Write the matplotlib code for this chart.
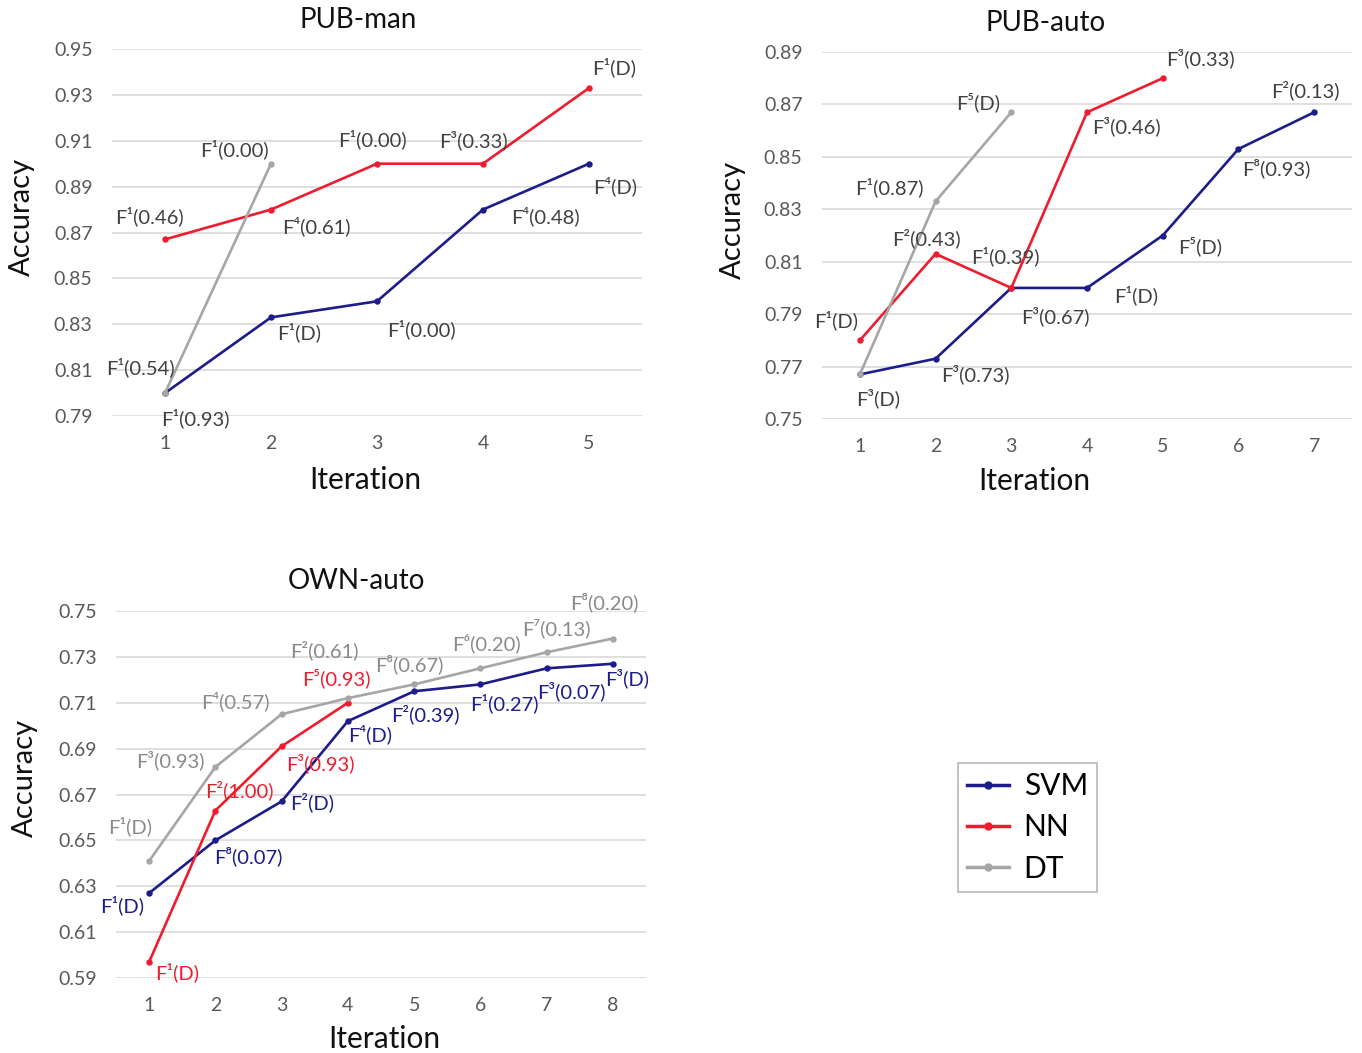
import matplotlib
matplotlib.use("Agg")
import matplotlib.pyplot as plt
from matplotlib.lines import Line2D

plt.rcParams['font.family'] = ['Lato', 'DejaVu Sans']

# ---------------- data ----------------
series_names = ["SVM", "NN", "DT"]

# PUB-man
pm_iter_svm = [1, 2, 3, 4, 5]
pm_svm = [0.800, 0.833, 0.840, 0.880, 0.900]
pm_svm_lbl = ["F¹(0.93)", "F¹(D)", "F¹(0.00)", "F⁴(0.48)", "F⁴(D)"]
pm_iter_nn = [1, 2, 3, 4, 5]
pm_nn = [0.867, 0.880, 0.900, 0.900, 0.933]
pm_nn_lbl = ["F¹(0.46)", "F⁴(0.61)", "F¹(0.00)", "F³(0.33)", "F¹(D)"]
pm_iter_dt = [1, 2]
pm_dt = [0.800, 0.900]
pm_dt_lbl = ["F¹(0.54)", "F¹(0.00)"]
pm_yticks = [0.79, 0.81, 0.83, 0.85, 0.87, 0.89, 0.91, 0.93, 0.95]

# PUB-auto
pa_iter_svm = [1, 2, 3, 4, 5, 6, 7]
pa_svm = [0.767, 0.773, 0.800, 0.800, 0.820, 0.853, 0.867]
pa_svm_lbl = ["F³(D)", "F³(0.73)", "F³(0.67)", "F¹(D)", "F⁵(D)", "F⁸(0.93)", "F²(0.13)"]
pa_iter_nn = [1, 2, 3, 4, 5]
pa_nn = [0.780, 0.813, 0.800, 0.867, 0.880]
pa_nn_lbl = ["F¹(D)", "F²(0.43)", "F¹(0.39)", "F³(0.46)", "F³(0.33)"]
pa_iter_dt = [1, 2, 3]
pa_dt = [0.767, 0.833, 0.867]
pa_dt_lbl = ["", "F¹(0.87)", "F⁵(D)"]
pa_yticks = [0.75, 0.77, 0.79, 0.81, 0.83, 0.85, 0.87, 0.89]

# OWN-auto
oa_iter_svm = [1, 2, 3, 4, 5, 6, 7, 8]
oa_svm = [0.627, 0.650, 0.667, 0.702, 0.715, 0.718, 0.725, 0.727]
oa_svm_lbl = ["F¹(D)", "F⁸(0.07)", "F²(D)", "F⁴(D)", "F²(0.39)", "F¹(0.27)", "F³(0.07)", "F³(D)"]
oa_iter_nn = [1, 2, 3, 4]
oa_nn = [0.597, 0.663, 0.691, 0.710]
oa_nn_lbl = ["F¹(D)", "F²(1.00)", "F³(0.93)", "F⁵(0.93)"]
oa_iter_dt = [1, 2, 3, 4, 5, 6, 7, 8]
oa_dt = [0.641, 0.682, 0.705, 0.712, 0.718, 0.725, 0.732, 0.738]
oa_dt_lbl = ["F¹(D)", "F³(0.93)", "F⁴(0.57)", "F²(0.61)", "F⁸(0.67)", "F⁶(0.20)", "F⁷(0.13)", "F⁸(0.20)"]
oa_yticks = [0.59, 0.61, 0.63, 0.65, 0.67, 0.69, 0.71, 0.73, 0.75]

# ---------------- style ----------------
C_SVM = "#1c1c8a"
C_NN = "#ee1c2e"
C_DT = "#a6a6a6"
GRID = "#d9d9d9"
TICK = "#595959"
LBL = "#404040"

# label offsets in pixels (dx right, dy down)
pm_svm_off = [(30, 25), (28, 15), (44, 28), (62, 7), (26, 23)]
pm_nn_off = [(-16, -23), (45, 17), (-5, -24), (-10, -23), (25, -21)]
pm_dt_off = [(-25, -26), (-37, -14)]

pa_svm_off = [(18, 24), (40, 16), (44, 28), (49, 7), (37, 11), (38, 19), (-9, -22)]
pa_nn_off = [(-24, -20), (-9, -16), (-6, -32), (39, 14), (38, -20)]
pa_dt_off = [(0, 0), (-46, -14), (-33, -10)]

oa_svm_off = [(-27, 12), (33, 16), (31, 1), (22, 13), (11, 23), (24, 19), (25, 23), (14, 14)]
oa_nn_off = [(28, 10), (24, -20), (39, 17), (-11, -25)]
oa_dt_off = [(-19, -35), (-45, -7), (-46, -13), (-24, -48), (-5, -20), (6, -25), (10, -24), (-8, -36)]

W, H = 1362, 1053
fig = plt.figure(figsize=(W / 100, H / 100), dpi=100)


def ax_at(x0, y_top, x1, y_bot):
    return fig.add_axes([x0 / W, 1 - y_bot / H, (x1 - x0) / W, (y_bot - y_top) / H])


def setup(ax, nmax, yticks):
    ax.set_xlim(0.5, nmax + 0.5)
    ax.set_ylim(yticks[0], yticks[-1])
    ax.set_xticks(range(1, nmax + 1))
    ax.set_yticks(yticks)
    ax.set_yticklabels([f"{v:.2f}" for v in yticks])
    for s in ax.spines.values():
        s.set_visible(False)
    ax.tick_params(length=0, labelsize=14, colors=TICK)
    ax.tick_params(axis='x', pad=14)
    ax.tick_params(axis='y', pad=14)
    ax.grid(axis='y', color=GRID, linewidth=1.2)
    ax.set_axisbelow(True)
    ax.patch.set_alpha(0)


def draw(ax, xs, ys, labels, offs, color, lcolor):
    ax.plot(xs, ys, color=color, lw=1.9, marker='o', ms=3.6, zorder=3, clip_on=False)
    for x, y, t, (dx, dy) in zip(xs, ys, labels, offs):
        if t:
            ax.annotate(t, (x, y), xytext=(dx, -dy), textcoords='offset pixels',
                        ha='center', va='center', fontsize=14.5, color=lcolor, zorder=4)


# PUB-man
ax1 = ax_at(112, 49, 642, 416)
setup(ax1, 5, pm_yticks)
draw(ax1, pm_iter_svm, pm_svm, pm_svm_lbl, pm_svm_off, C_SVM, LBL)
draw(ax1, pm_iter_nn, pm_nn, pm_nn_lbl, pm_nn_off, C_NN, LBL)
draw(ax1, pm_iter_dt, pm_dt, pm_dt_lbl, pm_dt_off, C_DT, LBL)

# PUB-auto
ax2 = ax_at(822, 52, 1352, 419)
setup(ax2, 7, pa_yticks)
draw(ax2, pa_iter_svm, pa_svm, pa_svm_lbl, pa_svm_off, C_SVM, LBL)
draw(ax2, pa_iter_nn, pa_nn, pa_nn_lbl, pa_nn_off, C_NN, LBL)
draw(ax2, pa_iter_dt, pa_dt, pa_dt_lbl, pa_dt_off, C_DT, LBL)

# OWN-auto
ax3 = ax_at(116, 611, 646, 978)
setup(ax3, 8, oa_yticks)
draw(ax3, oa_iter_svm, oa_svm, oa_svm_lbl, oa_svm_off, C_SVM, C_SVM)
draw(ax3, oa_iter_nn, oa_nn, oa_nn_lbl, oa_nn_off, C_NN, C_NN)
draw(ax3, oa_iter_dt, oa_dt, oa_dt_lbl, oa_dt_off, "#a6a6a6", "#8a8a8a")


def ftext(x, y, s, **kw):
    fig.text(x / W, 1 - y / H, s, ha='center', va='center', **kw)


for (tx, ty, title), (xx, xy), (yx, yy) in [
        ((358, 20, "PUB-man"), (365, 480), (22, 217)),
        ((1046, 23, "PUB-auto"), (1034, 481), (733, 220)),
        ((356, 581, "OWN-auto"), (384, 1039), (25, 778))]:
    ftext(tx, ty, title, fontsize=20, color="#111111")
    ftext(xx, xy, "Iteration", fontsize=21.5, color="#111111")
    ftext(yx, yy, "Accuracy", fontsize=21, color="#111111", rotation=90)

handles = [Line2D([0], [0], color=c, lw=2.5, marker='o', ms=5) for c in (C_SVM, C_NN, C_DT)]
leg = fig.legend(handles, series_names, loc='center', bbox_to_anchor=(1027.5 / W, 1 - 827.5 / H),
                 fontsize=21.5, frameon=True, fancybox=False, edgecolor="#a6a6a6",
                 handlelength=1.4, handletextpad=0.5, labelspacing=0.45, borderpad=0.3)
leg.get_frame().set_linewidth(1.2)

fig.savefig("out.png", dpi=100)
